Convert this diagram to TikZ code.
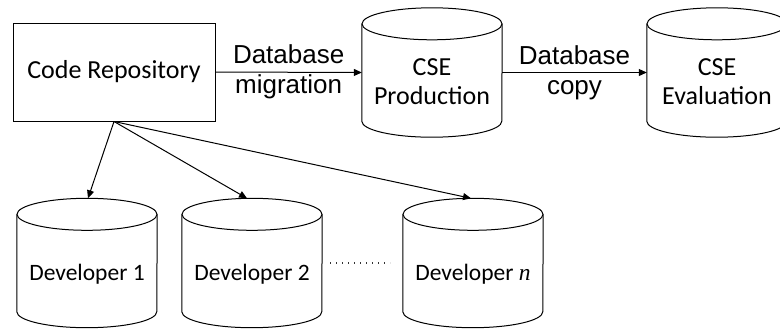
\documentclass[tikz,border=0pt]{standalone}
\usepackage{fontspec}
\setmainfont{Carlito}
\newfontfamily\arialf{Liberation Sans}
\newfontfamily\timesf{Liberation Serif}
\usetikzlibrary{arrows.meta}
\newcommand\drawcyl[1]{%
  \draw[cylline] ([yshift=-16pt]#1.north) ellipse [x radius=70pt, y radius=16pt];
  \draw[cylline] ([yshift=-16pt]#1.north west) -- ([yshift=16pt]#1.south west)
    arc [start angle=180, end angle=360, x radius=70pt, y radius=16pt]
    -- ([yshift=-16pt]#1.north east);
}
\tikzset{
  cylline/.style={line width=1pt, black},
  cylnode/.style={minimum width=140pt, minimum height=129pt, inner sep=0pt, draw=none},
  boxnode/.style={draw, line width=1pt, minimum width=202pt, minimum height=98pt, inner sep=0pt,
    font=\fontsize{26}{30}\selectfont},
  toptext/.style={font=\fontsize{26}{29}\selectfont, align=center, inner sep=0pt},
  ntext/.style={font=\fontsize{23.5}{29}\selectfont, align=center, inner sep=0pt},
  lbl/.style={font=\arialf\fontsize{26}{30}\selectfont, align=center, inner sep=0pt},
  conn/.style={line width=1pt, -{Triangle[length=8pt,width=7pt]}},
}
\begin{document}
\begin{tikzpicture}[x=1pt,y=-1pt]
\useasboundingbox (0,0) rectangle (780,330);
\clip (0,0) rectangle (780,330);
% nodes
\node[boxnode] (repo) at (114,72) {Code Repository};
\node[cylnode] (prod) at (432,72.5) {};
\node[cylnode] (eval) at (717,72.5) {};
\node[cylnode] (d1) at (87,263) {};
\node[cylnode] (d2) at (252,263) {};
\node[cylnode] (dn) at (473,263) {};
\drawcyl{prod}
\drawcyl{eval}
\drawcyl{d1}
\drawcyl{d2}
\drawcyl{dn}
% texts
\node[toptext] (prodt) at (432,82) {CSE\\Production};
\node[toptext] (evalt) at (717,82) {CSE\\Evaluation};
\node[ntext] (d1t) at (87,274) {Developer 1};
\node[ntext] (d2t) at (252,274) {Developer 2};
\node[ntext] (dnt) at (473,274) {Developer {\timesf\itshape n}};
% connectors
\draw[conn] (repo.east) -- node[lbl] (l1) {Database\\migration} (prod.west);
\draw[conn] (prod.east) -- node[lbl] (l2) {Database\\copy} (eval.west);
\draw[conn] (repo.south) -- ([xshift=1pt]d1.north);
\draw[conn] (repo.south) -- ([xshift=-5pt]d2.north);
\draw[conn] (repo.south) -- ([xshift=-2pt]dn.north);
\coordinate (dotA) at (330,263);
\coordinate (dotB) at (390,263);
\draw[line width=1.3pt, dash pattern=on 1.3pt off 4.7pt, black!80] (dotA) -- (dotB);
\end{tikzpicture}
\end{document}
